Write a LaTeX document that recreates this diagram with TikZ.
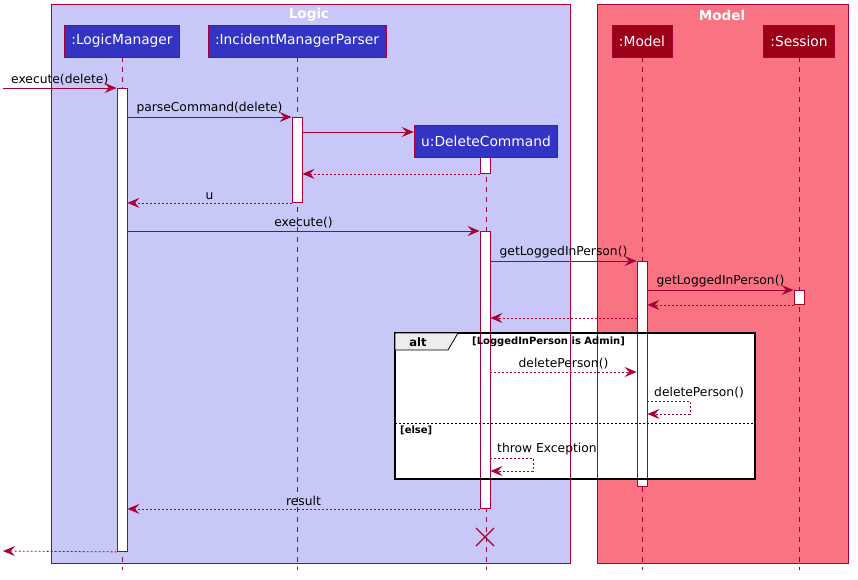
\documentclass[tikz,border=0pt]{standalone}
\usepackage{fontspec}
\setmainfont{DejaVu Sans}
\usetikzlibrary{arrows.meta,positioning}

\definecolor{umlred}{HTML}{A80036}
\definecolor{logicbg}{HTML}{C8C8F8}
\definecolor{modelbg}{HTML}{FA7382}
\definecolor{logicobj}{HTML}{3333C4}
\definecolor{modelobj}{HTML}{9D0019}

\tikzset{
  obj/.style={draw=umlred, fill=logicobj, text=white, font=\fontsize{13.8}{16}\selectfont,
    minimum height=32pt, inner xsep=7pt, line width=0.9pt},
  mobj/.style={obj, fill=modelobj},
  life/.style={umlred, dash pattern=on 5pt off 5pt, line width=0.8pt},
  actbar/.style={draw=umlred, fill=white, minimum width=10pt, inner sep=0pt, anchor=north, line width=0.9pt},
  msg/.style={umlred, line width=0.8pt, -{Stealth[length=12pt,width=10pt,inset=4.5pt]}},
  ret/.style={msg, dash pattern=on 2pt off 2pt},
  lbl/.style={text=black, font=\fontsize{12.3}{14}\selectfont, above=2.5pt, inner sep=0pt},
  grp/.style={text=white, font=\bfseries\fontsize{13.6}{16}\selectfont},
  guard/.style={text=black, font=\bfseries\fontsize{10}{12}\selectfont, inner sep=0pt}
}

\begin{document}
\begin{tikzpicture}[x=1pt,y=-1pt]
\useasboundingbox (0,0) rectangle (858,580);
% boxes
\draw[umlred, fill=logicbg, line width=0.9pt] (51,4) rectangle (570,563);
\draw[umlred, fill=modelbg, line width=0.9pt] (597,4) rectangle (848,563);
\node[grp] (logicT) at (309,15) {Logic};
\node[grp] (modelT) at (722,15) {Model};

% participants
\node[obj] (lm) at (122,41) {:LogicManager};
\node[obj] (imp) at (297,41) {:IncidentManagerParser};
\node[mobj] (mdl) at (642,41) {:Model};
\node[mobj] (ses) at (799,41) {:Session};
\node[obj] (dc) at (486,141) {u:DeleteCommand};

\draw[life] (lm.south) -- ++(0,513);
\draw[life] (imp.south) -- ++(0,513);
\draw[life] (mdl.south) -- ++(0,513);
\draw[life] (ses.south) -- ++(0,513);
\draw[life] (dc.south) -- ++(0,413);

% alt frame
\fill[white] (395,333) rectangle (755,479);
\draw[umlred, line width=0.9pt] (570,333) -- (570,479) (597,333) -- (597,479);

% activations
\node[actbar, minimum height=463pt] (lmA) at (122,88) {};
\node[actbar, minimum height=85pt] (impA) at (297,117) {};
\node[actbar, minimum height=16pt] (dcA1) at (485,157) {};
\node[actbar, minimum height=277pt] (dcA2) at (485,231) {};
\node[actbar, minimum height=225pt] (mdlA) at (642,261) {};
\node[actbar, minimum height=14pt] (sesA) at (799,290) {};

\coordinate (inL) at (3,88);
\coordinate (outL) at (3,551);

% messages
\draw[msg] (inL) -- (lmA.north west) node[lbl, midway] {execute(delete)};
\draw[msg] (lmA.east |- impA.north) -- (impA.north west) node[lbl, midway] {parseCommand(delete)};
\draw[msg] (impA.east |- 0,132) -- (dc.west |- 0,132);
\draw[ret] (dcA1.south west) -- (impA.east |- dcA1.south);
\draw[ret] (impA.south west) -- (lmA.east |- impA.south) node[lbl, midway] {u};
\draw[msg] (lmA.east |- dcA2.north) -- (dcA2.north west) node[lbl, midway] {execute()};
\draw[msg] (dcA2.east |- mdlA.north) -- (mdlA.north west) node[lbl, midway] {getLoggedInPerson()};
\draw[msg] (mdlA.east |- sesA.north) -- (sesA.north west) node[lbl, midway] {getLoggedInPerson()};
\draw[ret] (sesA.south west) -- (mdlA.east |- sesA.south);
\draw[ret] (mdlA.west |- 0,318) -- (dcA2.east |- 0,318);

% alt frame border
\draw[black, line width=1.6pt] (395,333) rectangle (755,479);
\draw[black, fill=black!7, line width=0.8pt] (395,333) -- (458,333) -- (448,350) -- (395,350) -- cycle;
\node[guard, font=\bfseries\fontsize{11.5}{13}\selectfont] (altT) at (418,342) {alt};
\node[guard, anchor=west] (g1) at (472,342) {[LoggedInPerson is Admin]};
\draw[black, dash pattern=on 2pt off 2pt, line width=0.8pt] (395,423) -- (755,423);
\node[guard, anchor=west] (g2) at (400,430) {[else]};

\draw[ret] (dcA2.east |- 0,372) -- (mdlA.west |- 0,372) node[lbl, midway] {deletePerson()};
\draw[ret] (mdlA.east |- 0,401) -- ++(43,0) -- ++(0,13) -- (mdlA.east |- 0,414);
\node[lbl, anchor=south west] (dpS) at (654,401) {deletePerson()};
\draw[ret] (dcA2.east |- 0,458) -- ++(43,0) -- ++(0,13) -- (dcA2.east |- 0,471);
\node[lbl, anchor=south west] (thr) at (497,458) {throw Exception};

\draw[ret] (dcA2.south west) -- (lmA.east |- dcA2.south) node[lbl, midway] {result};
\draw[ret] (lmA.south west) -- (outL);

% destroy
\draw[umlred, line width=1.3pt] (476,528) -- (494,546) (476,546) -- (494,528);
\end{tikzpicture}
\end{document}
